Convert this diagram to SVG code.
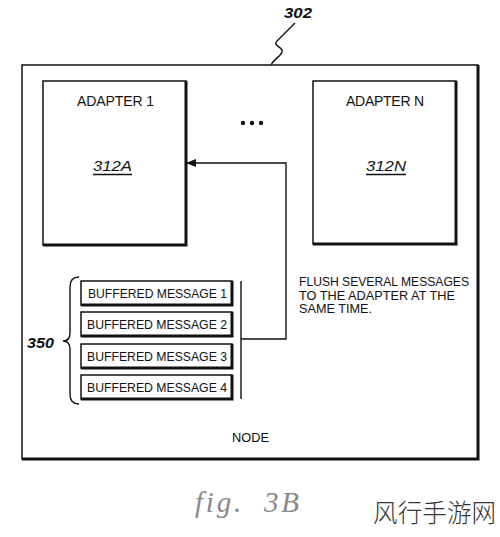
<svg xmlns="http://www.w3.org/2000/svg" width="500" height="537" viewBox="0 0 500 537">
<style>
.t{font-family:"Liberation Sans",Arial,sans-serif;fill:#111}
.box{fill:#fff;stroke:#111;stroke-width:1.5}
.sh{fill:none;stroke:#111;stroke-width:3}
.ln{fill:none;stroke:#111;stroke-width:1.4}
.ref{font-family:"Liberation Sans",Arial,sans-serif;font-style:italic;font-weight:bold;fill:#111}
.id{font-family:"Liberation Sans",Arial,sans-serif;font-style:italic;fill:#111}
</style>
<defs>
<marker id="ah" markerWidth="10" markerHeight="8" refX="9" refY="4" orient="auto" markerUnits="userSpaceOnUse">
<path d="M0,0 L10,4 L0,8 Z" fill="#111"/>
</marker>
</defs>
<rect width="500" height="537" fill="#fff"/>
<g id="node">
<rect x="22" y="65" width="456" height="394" fill="none" stroke="#111" stroke-width="1.5"/>
<polyline points="478,65 478,459 22,459" class="sh" stroke-width="2.5"/>
<text class="t" x="232" y="442" font-size="13.5" textLength="37" lengthAdjust="spacingAndGlyphs">NODE</text>
</g>
<g id="label302">
<text class="ref" x="284" y="18" font-size="14" textLength="28" lengthAdjust="spacingAndGlyphs">302</text>
<path d="M295,23 L277,41 C272,46 284,47 282,52 C281,56 274,59 271,65" class="ln" stroke-width="1.3"/>
</g>
<g id="adapter1">
<rect class="box" x="43" y="81" width="143" height="164"/>
<polyline points="186,81 186,245 43,245" class="sh"/>
<text class="t" x="77" y="106" font-size="14" textLength="77">ADAPTER 1</text>
<text class="id" x="93" y="171" font-size="14.5" textLength="39" lengthAdjust="spacingAndGlyphs">312A</text>
<line x1="93" y1="174.5" x2="132" y2="174.5" stroke="#111" stroke-width="1.3"/>
</g>
<g id="dots">
<circle cx="243" cy="123" r="2.2" fill="#111"/>
<circle cx="252" cy="123" r="2.2" fill="#111"/>
<circle cx="261" cy="123" r="2.2" fill="#111"/>
</g>
<g id="adapterN">
<rect class="box" x="313" y="81" width="143" height="163"/>
<polyline points="456,81 456,244 313,244" class="sh"/>
<text class="t" x="346" y="106" font-size="14" textLength="78">ADAPTER N</text>
<text class="id" x="366" y="171" font-size="14.5" textLength="40" lengthAdjust="spacingAndGlyphs">312N</text>
<line x1="366" y1="174.5" x2="406" y2="174.5" stroke="#111" stroke-width="1.3"/>
</g>
<g id="buffer">
<rect class="box" x="81" y="281" width="151" height="24"/>
<polyline points="232,281 232,305 81,305" class="sh" stroke-width="2.5"/>
<text class="t" x="88" y="298" font-size="13.5" textLength="139" lengthAdjust="spacingAndGlyphs">BUFFERED MESSAGE 1</text>
<rect class="box" x="81" y="312" width="151" height="24"/>
<polyline points="232,312 232,336 81,336" class="sh" stroke-width="2.5"/>
<text class="t" x="87" y="329" font-size="13.5" textLength="140" lengthAdjust="spacingAndGlyphs">BUFFERED MESSAGE 2</text>
<rect class="box" x="81" y="344" width="151" height="24"/>
<polyline points="232,344 232,368 81,368" class="sh" stroke-width="2.5"/>
<text class="t" x="87" y="361" font-size="13.5" textLength="140" lengthAdjust="spacingAndGlyphs">BUFFERED MESSAGE 3</text>
<rect class="box" x="81" y="375" width="151" height="24"/>
<polyline points="232,375 232,399 81,399" class="sh" stroke-width="2.5"/>
<text class="t" x="87" y="392" font-size="13.5" textLength="140" lengthAdjust="spacingAndGlyphs">BUFFERED MESSAGE 4</text>
<path d="M79,277 Q70,277 70,287 L70,333 Q70,341 63,341 Q70,341 70,349 L70,394 Q70,404 79,404" class="ln" stroke-width="1.3"/>
<text class="ref" x="27" y="348" font-size="14.5" textLength="27" lengthAdjust="spacingAndGlyphs">350</text>
</g>
<g id="connectors">
<line x1="241" y1="281" x2="241" y2="399" class="ln"/>
<polyline points="241,339 286,339 286,163 187,163" class="ln" marker-end="url(#ah)"/>
</g>
<g id="note">
<text class="t" x="299" y="286" font-size="13.5" textLength="170" lengthAdjust="spacingAndGlyphs">FLUSH SEVERAL MESSAGES</text>
<text class="t" x="299" y="299.5" font-size="13.5" textLength="156" lengthAdjust="spacingAndGlyphs">TO THE ADAPTER AT THE</text>
<text class="t" x="299" y="313" font-size="13.5" textLength="73" lengthAdjust="spacingAndGlyphs">SAME TIME.</text>
</g>
<g id="caption">
<text x="195" y="512" font-family="Liberation Serif,serif" font-style="italic" font-size="29" fill="#888" xml:space="preserve" textLength="104">fig.  3B</text>
<text x="373" y="522" font-family="Noto Sans CJK SC,sans-serif" font-weight="300" font-size="24.5" fill="#333" textLength="123">风行手游网</text>
</g>
</svg>
